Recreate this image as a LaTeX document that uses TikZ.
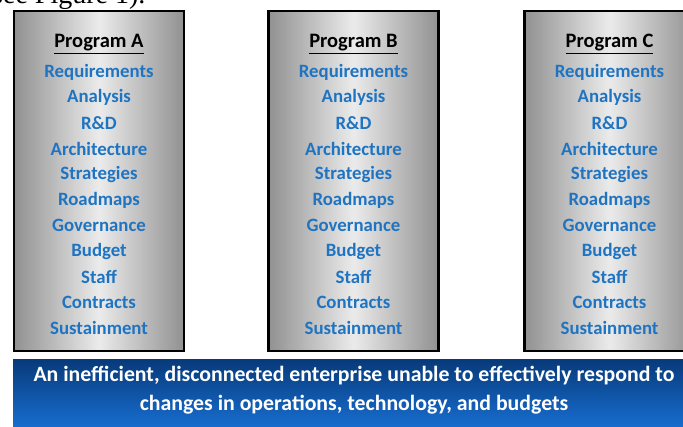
\documentclass[tikz,border=0pt]{standalone}
\usepackage{fontspec}
\setmainfont{Carlito}
\newfontfamily\seriffont{Liberation Serif}
\definecolor{itemblue}{RGB}{31,116,194}
\definecolor{bartop}{RGB}{8,58,122}
\definecolor{barbot}{RGB}{24,112,212}
\definecolor{boxedge}{RGB}{145,145,145}
\definecolor{boxmid}{RGB}{235,235,235}
\begin{document}
\begin{tikzpicture}[x=1pt,y=-1pt,
  progbox/.style={draw=black, line width=2.2pt, left color=boxedge, right color=boxedge, middle color=boxmid, minimum width=170pt, minimum height=340pt, inner sep=0pt},
  head/.style={font=\fontsize{20.5}{24}\selectfont\bfseries, text=black, inner sep=0pt},
  item/.style={font=\fontsize{18.8}{22}\selectfont\bfseries, text=itemblue, inner sep=0pt},
  bar/.style={top color=bartop, bottom color=barbot, minimum width=690pt, minimum height=72pt, inner sep=0pt},
  bartext/.style={font=\fontsize{21.8}{29}\selectfont\bfseries, text=white, align=center, inner sep=0pt},
  note/.style={font=\seriffont\fontsize{28}{30}\selectfont, inner sep=0pt, anchor=base west}
]
\useasboundingbox (0,0) rectangle (683,426);
\clip (0,0) rectangle (683,426);
\node[note] (topnote) at (-8,3) {see Figure 1).};
\foreach \p/\cx in {A/99,B/353.5,C/609.5}{
  \node[progbox] (box\p) at (\cx,181) {};
  \node[head] (head\p) at (\cx,44) {\underline{Program \p}};
  \foreach \t [count=\i from 0] in {Requirements,Analysis,R\&D,Architecture,Strategies,Roadmaps,Governance,Budget,Staff,Contracts,Sustainment}{
    \node[item] (item\p\i) at (\cx,72+25.6*\i) {\t};
  }
}
\node[bar] (bar) at (358,395) {};
\node[bartext] (bartext) at (354,390.5) {An inefficient, disconnected enterprise unable to effectively respond to\\changes in operations, technology, and budgets};
\end{tikzpicture}
\end{document}
